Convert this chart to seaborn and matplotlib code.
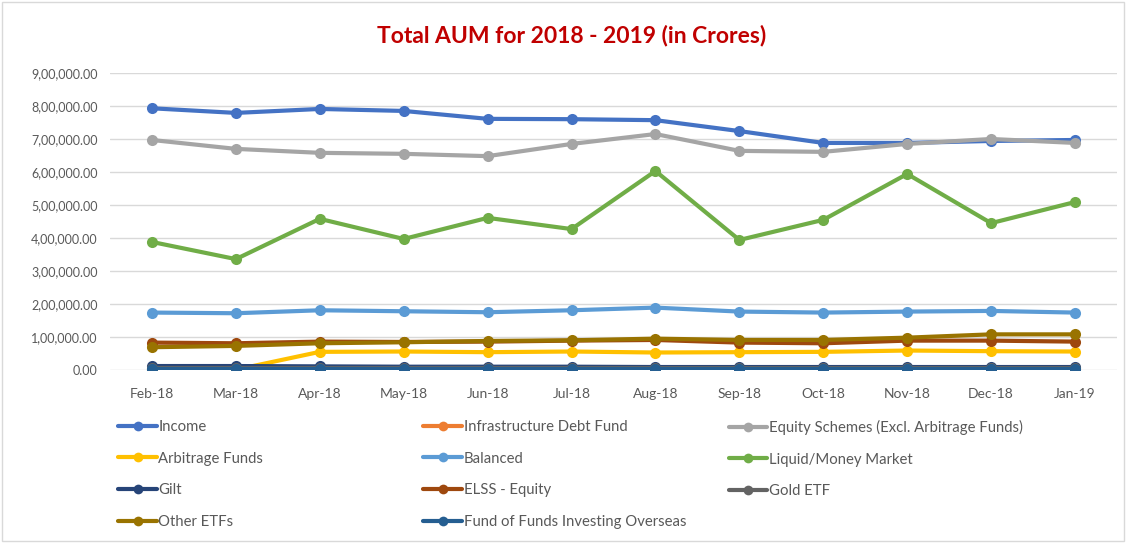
import matplotlib
matplotlib.use("Agg")
import matplotlib.pyplot as plt
from matplotlib.lines import Line2D
from matplotlib.patches import Rectangle
from matplotlib.ticker import FuncFormatter
import seaborn as sns
import pandas as pd

months = ["Feb-18", "Mar-18", "Apr-18", "May-18", "Jun-18", "Jul-18",
          "Aug-18", "Sep-18", "Oct-18", "Nov-18", "Dec-18", "Jan-19"]

# values in crores
income = [793000, 779000, 791000, 785000, 761000, 760000, 757000, 724000, 688000, 688000, 694000, 697000]
infra_debt = [2000, 2000, 2000, 2000, 2000, 2000, 2000, 2000, 2000, 2000, 2000, 2000]
equity = [697000, 670000, 658000, 655000, 648000, 685000, 715000, 664000, 661000, 685000, 700000, 688000]
arbitrage = [1000, 1000, 55000, 56000, 54000, 56000, 53000, 54000, 55000, 59000, 57000, 56000]
balanced = [174000, 172000, 181000, 178000, 175000, 181000, 189000, 177000, 174000, 177000, 179000, 174000]
liquid = [388000, 336000, 458000, 397000, 461000, 427000, 603000, 394000, 455000, 594000, 445000, 509000]
gilt = [12000, 12000, 11000, 10000, 10000, 10000, 9000, 9000, 9000, 9000, 9000, 9000]
elss = [83000, 81000, 86000, 85000, 86000, 89000, 91000, 83000, 81000, 89000, 89000, 86000]
gold_etf = [5000, 5000, 5000, 5000, 5000, 5000, 5000, 5000, 5000, 5000, 5000, 5000]
other_etfs = [69000, 73000, 81000, 84000, 88000, 90000, 95000, 91000, 91000, 98000, 108000, 108000]
fof = [3000, 3000, 3000, 3000, 3000, 3000, 3000, 3000, 3000, 3000, 3000, 3000]

series = {
    "Income": income,
    "Infrastructure Debt Fund": infra_debt,
    "Equity Schemes (Excl. Arbitrage Funds)": equity,
    "Arbitrage Funds": arbitrage,
    "Balanced": balanced,
    "Liquid/Money Market": liquid,
    "Gilt": gilt,
    "ELSS - Equity": elss,
    "Gold ETF": gold_etf,
    "Other ETFs": other_etfs,
    "Fund of Funds Investing Overseas": fof,
}
colors = ["#4472C4", "#ED7D31", "#A5A5A5", "#FFC000", "#5B9BD5", "#70AD47",
          "#264478", "#9E480E", "#636363", "#997300", "#255E91"]
names = list(series.keys())

df = pd.concat([pd.DataFrame({"month": months, "aum": v, "scheme": k}) for k, v in series.items()],
               ignore_index=True)


def indian_fmt(v, pos):
    n = int(round(v))
    s = str(n)
    if len(s) > 3:
        head, tail = s[:-3], s[-3:]
        parts = []
        while len(head) > 2:
            parts.insert(0, head[-2:])
            head = head[:-2]
        if head:
            parts.insert(0, head)
        s = ",".join(parts) + "," + tail
    return s + ".00"


sns.set_style("white")
plt.rcParams["font.family"] = ["Lato", "DejaVu Sans"]

fig = plt.figure(figsize=(11.26, 5.43), dpi=100)
ax = fig.add_axes([0.0977, 0.3186, 0.8943, 0.547])

sns.lineplot(data=df, x="month", y="aum", hue="scheme", hue_order=names, palette=colors,
             marker="o", markersize=8, markeredgewidth=0, linewidth=3, sort=False,
             legend=False, ax=ax)

ax.set_xlim(-0.5, 11.5)
ax.set_ylim(0, 900000)
ax.set_yticks(range(0, 900001, 100000))
ax.yaxis.set_major_formatter(FuncFormatter(indian_fmt))
ax.grid(axis="y", color="#D9D9D9", linewidth=1)
ax.set_axisbelow(True)
for sp in ax.spines.values():
    sp.set_visible(False)
ax.set_xlabel("")
ax.set_ylabel("")
ax.tick_params(axis="both", length=0, labelcolor="#595959")
ax.tick_params(axis="x", pad=13, labelsize=10)
ax.tick_params(axis="y", pad=9, labelsize=9)

fig.text(0.508, 0.935, "Total AUM for 2018 - 2019 (in Crores)", ha="center", va="center",
         fontsize=16.5, fontweight="bold", color="#C00000")

# legend, three columns laid out row by row
handles = [Line2D([], [], color=c, linewidth=3, marker="o", markersize=7, markeredgewidth=0)
           for c in colors]
col_x = [0.105, 0.376, 0.647]
for ci in range(3):
    idx = list(range(ci, len(names), 3))
    fig.legend([handles[i] for i in idx], [names[i] for i in idx], loc="upper left",
               bbox_to_anchor=(col_x[ci], 0.227), frameon=False, fontsize=10.7,
               labelcolor="#595959", handlelength=2.6, handletextpad=0.1,
               labelspacing=1.2, borderaxespad=0, borderpad=0)

fig.patches.append(Rectangle((0.002, 0.003), 0.996, 0.994, transform=fig.transFigure,
                             fill=False, edgecolor="#D9D9D9", linewidth=1))

fig.savefig("out.png", dpi=100)
